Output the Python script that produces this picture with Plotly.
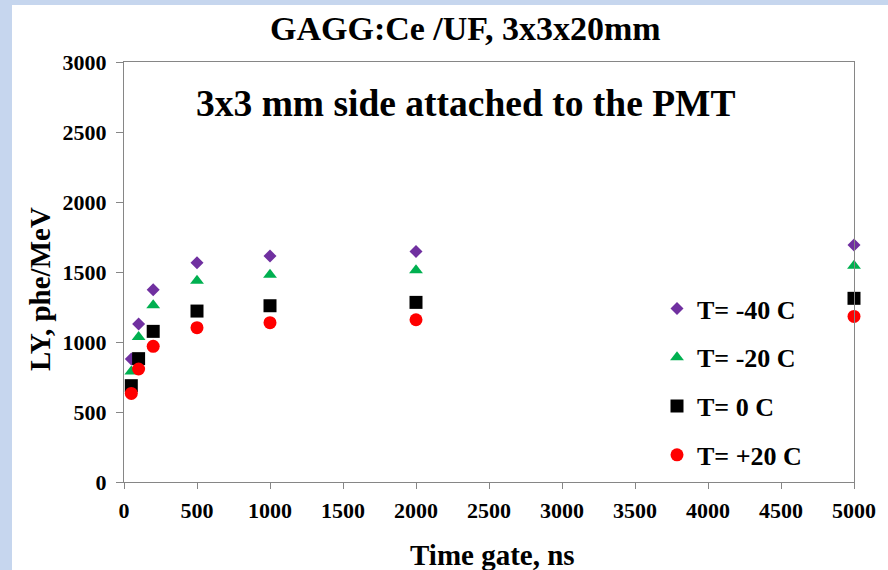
import plotly.graph_objects as go

# Gate times (ns) and light yield (phe/MeV) per temperature
gate_ns = [50, 100, 200, 500, 1000, 2000, 5000]
ly_m40 = [878, 1128, 1373, 1566, 1614, 1647, 1693]
ly_m20 = [790, 1036, 1262, 1438, 1481, 1512, 1545]
ly_0 = [688, 881, 1076, 1221, 1259, 1283, 1312]
ly_p20 = [633, 807, 969, 1102, 1138, 1159, 1183]

series_names = ["T= -40 C", "T= -20 C", "T= 0 C", "T= +20 C"]
series_values = [ly_m40, ly_m20, ly_0, ly_p20]
series_symbols = ["diamond", "triangle-up", "square", "circle"]
series_colors = ["#7030A0", "#00B050", "#000000", "#FF0000"]
series_sizes = [10, 12, 13, 13]

x_ticks = list(range(0, 5001, 500))
y_ticks = list(range(0, 3001, 500))

FONT = "Liberation Serif, Times New Roman, serif"
AXIS_GRAY = "#868686"

fig = go.Figure()
for i, (name, vals) in enumerate(zip(series_names, series_values)):
    fig.add_trace(go.Scatter(
        x=gate_ns, y=vals, mode="markers", name=name,
        legendgroup=f"g{i}",
        cliponaxis=False,
        marker=dict(symbol=series_symbols[i], color=series_colors[i],
                    size=series_sizes[i], line=dict(width=0)),
    ))

W, H = 888, 570
L, R, T, B = 124, 34, 62, 88
pw, ph = W - L - R, H - T - B


def px(xp):
    return (xp - L) / pw


def py(yp):
    return (H - B - yp) / ph


fig.update_layout(
    width=W, height=H,
    margin=dict(l=L, r=R, t=T, b=B),
    paper_bgcolor="white", plot_bgcolor="white",
    font=dict(family=FONT, color="black", weight="bold"),
    showlegend=True,
    legend=dict(
        x=px(657), y=py(285), xanchor="left", yanchor="top",
        bgcolor="rgba(0,0,0,0)", borderwidth=0,
        font=dict(family=FONT, size=26, color="black", weight="bold"),
        tracegroupgap=12,
    ),
    xaxis=dict(
        range=[0, 5000], tickvals=x_ticks, ticktext=[str(v) for v in x_ticks],
        showgrid=False, zeroline=False,
        showline=True, linecolor=AXIS_GRAY, linewidth=1, mirror=True,
        ticks="outside", ticklen=6, tickcolor=AXIS_GRAY, tickwidth=1,
        ticklabelstandoff=3,
        tickfont=dict(family=FONT, size=22, color="black", weight="bold"),
    ),
    yaxis=dict(
        range=[0, 3000], tickvals=y_ticks, ticktext=[str(v) for v in y_ticks],
        showgrid=False, zeroline=False,
        showline=True, linecolor=AXIS_GRAY, linewidth=1, mirror=True,
        ticks="outside", ticklen=7, tickcolor=AXIS_GRAY, tickwidth=1,
        ticklabelstandoff=5,
        tickfont=dict(family=FONT, size=22, color="black", weight="bold"),
    ),
    shapes=[
        # light-blue slide border on the left and top
        dict(type="rect", xref="paper", yref="paper", layer="below",
             x0=px(0), x1=px(12), y0=py(H), y1=py(0),
             fillcolor="#C6D6EE", line=dict(width=0)),
        dict(type="rect", xref="paper", yref="paper", layer="below",
             x0=px(0), x1=px(W), y0=py(5), y1=py(0),
             fillcolor="#C6D6EE", line=dict(width=0)),
    ],
    annotations=[
        dict(text="GAGG:Ce /UF, 3x3x20mm", xref="paper", yref="paper",
             x=px(465), y=py(28), xanchor="center", yanchor="middle",
             showarrow=False,
             font=dict(family=FONT, size=34, color="black", weight="bold")),
        dict(text="3x3 mm side attached to the PMT", xref="paper", yref="paper",
             x=px(466), y=py(103), xanchor="center", yanchor="middle",
             showarrow=False,
             font=dict(family=FONT, size=37.5, color="black", weight="bold")),
        dict(text="LY, phe/MeV", xref="paper", yref="paper",
             x=px(40), y=py(289), xanchor="center", yanchor="middle",
             textangle=-90, showarrow=False,
             font=dict(family=FONT, size=29, color="black", weight="bold")),
        dict(text="Time gate, ns", xref="paper", yref="paper",
             x=px(492), y=py(555), xanchor="center", yanchor="middle",
             showarrow=False,
             font=dict(family=FONT, size=29, color="black", weight="bold")),
    ],
)

fig.write_html("out.html")
